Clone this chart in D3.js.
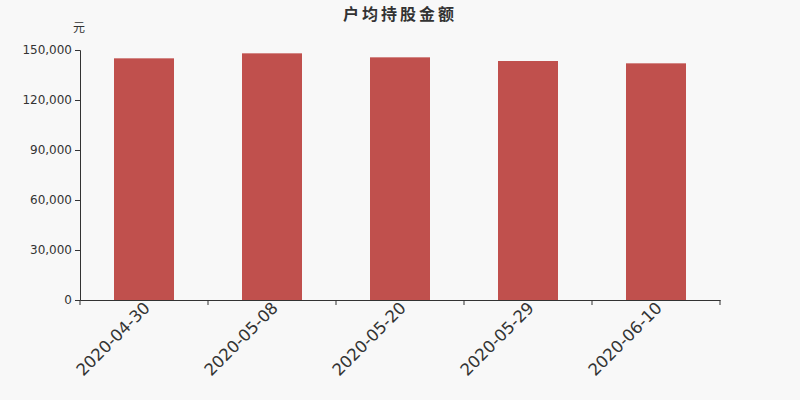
<!DOCTYPE html>
<html>
<head>
<meta charset="utf-8">
<script src="https://cdn.jsdelivr.net/npm/d3@7"></script>
<style>
  body { margin: 0; background: #f8f8f8; }
  text { font-family: "DejaVu Sans", "Noto Sans CJK SC", sans-serif; }
</style>
</head>
<body>
<script>
var dates = ['2020-04-30', '2020-05-08', '2020-05-20', '2020-05-29', '2020-06-10'];
var amounts = [145000, 148000, 145600, 143400, 142000];
var yTicks = [0, 30000, 60000, 90000, 120000, 150000];

var svgwidth = 800, svgheight = 400;
var margins = { top: 50, bottom: 100, left: 80, right: 80 };
var width = svgwidth - margins.left - margins.right;
var height = svgheight - margins.top - margins.bottom;

var svg = d3.select('body').append('svg')
  .attr('width', svgwidth)
  .attr('height', svgheight)
  .style('background', '#f8f8f8');

var xscale = d3.scaleBand().domain(dates).range([0, width]);
var yscale = d3.scaleLinear().domain([0, 150000]).range([height, 0]);

var g = svg.append('g')
  .attr('transform', 'translate(' + margins.left + ',' + margins.top + ')');

// bars
var barw = 60;
g.selectAll('.bar').data(amounts).enter()
  .append('rect')
  .attr('x', function(d, i) { return xscale(dates[i]) + (xscale.bandwidth() - barw) / 2; })
  .attr('y', function(d) { return yscale(d); })
  .attr('width', barw)
  .attr('height', function(d) { return height - yscale(d); })
  .attr('fill', '#c0504d');

// y axis
var yaxis = g.append('g')
  .call(d3.axisLeft(yscale).tickValues(yTicks).tickSize(5).tickPadding(3)
    .tickFormat(d3.format(',')));
yaxis.select('.domain').attr('stroke', '#333');
yaxis.selectAll('.tick line').attr('stroke', '#333');
yaxis.selectAll('.tick text').attr('fill', '#333').style('font-size', '12px');

// x axis
var xaxis = g.append('g')
  .attr('transform', 'translate(0,' + height + ')')
  .call(d3.axisBottom(xscale).tickSize(0).tickSizeOuter(0));
xaxis.select('.domain').attr('stroke', '#333');
xaxis.selectAll('.tick text')
  .attr('fill', '#333')
  .style('font-size', '16.5px')
  .attr('text-anchor', 'end')
  .attr('dy', null)
  .attr('y', 0)
  .attr('transform', 'translate(7,9) rotate(-45)');

// x tick marks at band boundaries
var bounds = dates.map(function(d) { return xscale(d); }).concat([width]);
g.selectAll('.xtick').data(bounds).enter()
  .append('line')
  .attr('x1', function(d) { return d; })
  .attr('x2', function(d) { return d; })
  .attr('y1', height)
  .attr('y2', height + 5)
  .attr('stroke', '#333');

// title and unit
svg.append('text')
  .attr('x', svgwidth / 2)
  .attr('y', 20)
  .attr('text-anchor', 'middle')
  .style('font-family', '"Noto Sans CJK SC", sans-serif')
  .style('font-size', '16px')
  .style('font-weight', 'bold')
  .style('letter-spacing', '3px')
  .attr('fill', '#333')
  .text('户均持股金额');

svg.append('text')
  .attr('x', 79)
  .attr('y', 32)
  .attr('text-anchor', 'middle')
  .style('font-family', '"Noto Sans CJK SC", sans-serif')
  .style('font-size', '12px')
  .attr('fill', '#333')
  .text('元');
</script>
</body>
</html>
